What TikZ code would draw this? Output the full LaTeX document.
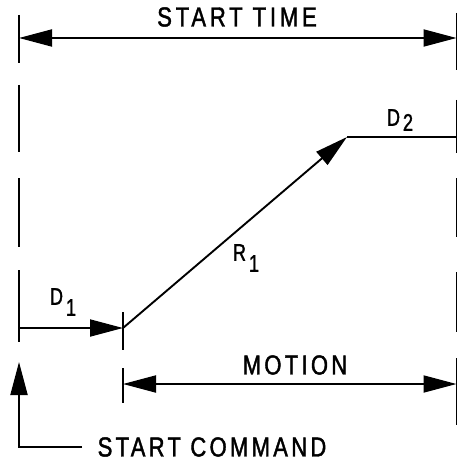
\documentclass[tikz,border=0pt]{standalone}
\usepackage{fontspec}
\setmainfont{Liberation Sans}
\usetikzlibrary{arrows.meta}
\newfontfamily\lblfont[LetterSpace=12,FakeStretch=0.8,FakeBold=1.5]{Liberation Sans}
\newfontfamily\widefont[LetterSpace=14,FakeStretch=0.8,FakeBold=1.5]{Liberation Sans}
\newfontfamily\subfont[FakeStretch=0.75,FakeBold=1.5]{Liberation Sans}
\begin{document}
\begin{tikzpicture}[x=1pt,y=-1pt,
  ln/.style={line width=1.9pt},
  bnd/.style={line width=1.9pt},
  tip/.style={-{Triangle[length=33pt,width=17pt]}},
  dtip/.style={{Triangle[length=33pt,width=17pt]}-{Triangle[length=33pt,width=17pt]}},
  lbl/.style={inner sep=0pt,font=\lblfont\fontsize{27.5}{28}\selectfont},
  sublbl/.style={inner sep=0pt,font=\subfont\fontsize{24}{24}\selectfont}]
\useasboundingbox (0,0) rectangle (458,465);
% boundary segments left
\foreach \a/\b in {15/63,85/152,178/247,270/342}
  \draw[bnd] (19,\a) -- (19,\b);
% boundary segments right
\foreach \a/\b in {13/70,100/153,178/237,272/332,358/425}
  \draw[bnd] (456.5,\a) -- (456.5,\b);
% ticks at start of motion
\draw[bnd] (123,312) -- (123,350);
\draw[bnd] (123,368) -- (123,403);
% coordinates
\coordinate (stL) at (19,38);
\coordinate (stR) at (456.5,38);
\coordinate (d1s) at (19,328);
\coordinate (d1e) at (123,328);
\coordinate (top) at (347,137);
\coordinate (d2e) at (456.5,137);
\coordinate (moL) at (123,384);
\coordinate (moR) at (456.5,384);
\coordinate (scEnd) at (82,447);
\coordinate (scCorner) at (19,447);
\coordinate (scTip) at (19,362);
% connectors
\draw[ln,dtip] (stL) -- (stR);
\draw[ln,tip] (d1s) -- (d1e);
\draw[ln,tip] (d1e) -- (top);
\draw[ln] (top) -- (d2e);
\draw[ln,dtip] (moL) -- (moR);
\draw[ln,tip] (scEnd) -- (scCorner) -- (scTip);
% labels
\node[lbl] (tStart) at (237,17) {\widefont START TIME};
\node[sublbl] (tD2) at (400,120) {D\hspace{3pt}\raisebox{-5pt}{2}};
\node[sublbl] (tR1) at (246,258) {R\hspace{3pt}\raisebox{-11pt}{1}};
\node[sublbl] (tD1) at (63,302) {D\hspace{3pt}\raisebox{-11pt}{1}};
\node[lbl] (tMotion) at (295,365) {MOTION};
\node[lbl] (tCmd) at (212,447) {START COMMAND};
\end{tikzpicture}
\end{document}
